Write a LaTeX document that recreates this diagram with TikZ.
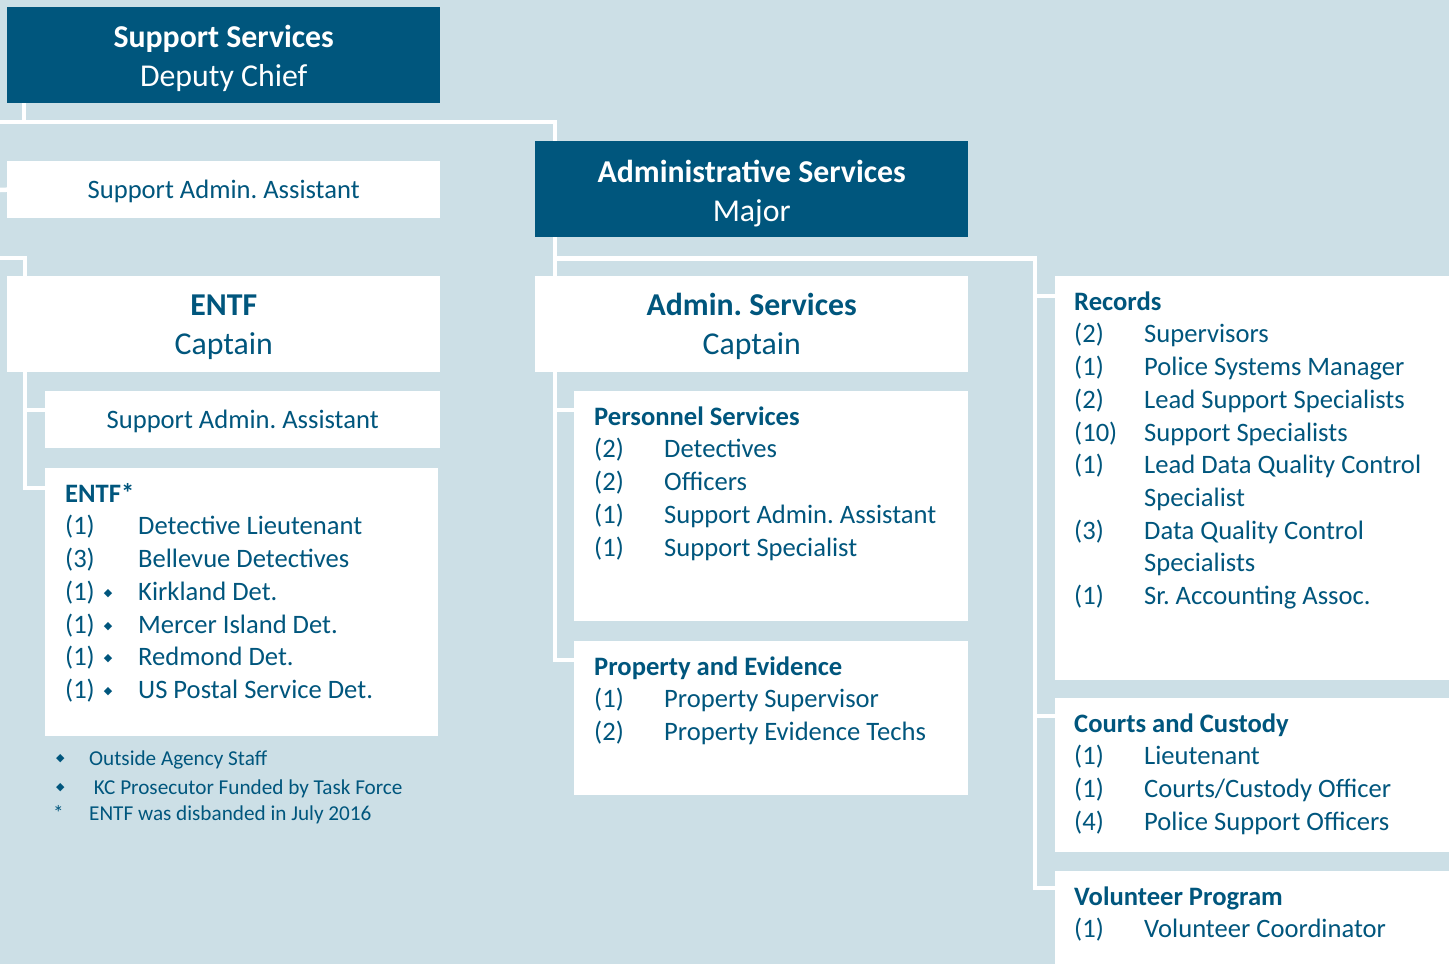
\documentclass[tikz,border=0pt]{standalone}
\usepackage{fontspec}
\setmainfont{Carlito}
\newfontfamily\symfont{DejaVu Sans}
\usetikzlibrary{positioning}
\frenchspacing

\definecolor{bgblue}{HTML}{CCDFE6}
\definecolor{chiefblue}{HTML}{00567D}

\newcommand{\bodyfont}{\fontsize{26.6}{32.7}\selectfont}
\newcommand{\headfont}{\fontsize{31.8}{39}\selectfont}
\newcommand{\notefont}{\fontsize{21.2}{26}\selectfont}
\newcommand{\entry}[3][70pt]{\makebox[#1][l]{#2}#3}
\newcommand{\outside}{\raisebox{4pt}{\symfont\fontsize{11}{11}\selectfont ◆}}
\newcommand{\topstrut}[1]{\rule{0pt}{#1}}

\begin{document}
\begin{tikzpicture}[x=1pt, y=-1pt,
    headbox/.style={fill=chiefblue, text=white, anchor=north west, inner sep=0pt,
                    align=center, font=\headfont, minimum width=433pt, minimum height=96pt},
    unitbox/.style={fill=white, text=chiefblue, anchor=north west, inner sep=0pt,
                    align=center, minimum width=433pt, minimum height=96pt},
    onebox/.style={unitbox, font=\bodyfont, minimum height=57pt, text height=17pt, text depth=0pt},
    listbox/.style={fill=white, anchor=north west, inner sep=0pt},
    listtext/.style={anchor=north west, align=left, text=chiefblue, font=\bodyfont, inner sep=0pt},
    link/.style={draw=white, line width=4.5pt}]

    \useasboundingbox (0,0) rectangle (1449,964);
    \fill [bgblue] (0,0) rectangle (1449,964);

    % off-page ends on the left
    \coordinate (offtop) at (0,122);
    \coordinate (offsa)  at (0,190);
    \coordinate (offentf) at (0,258);

    % boxes
    \node (dc)    [headbox] at (7,7)     {\topstrut{29pt}\textbf{Support Services}\\Deputy Chief};
    \node (sa1)   [onebox] at (7,161) {Support Admin. Assistant};
    \node (entf)  [unitbox, font=\headfont] at (7,276) {\topstrut{27pt}\textbf{ENTF}\\Captain};
    \node (sa2)   [onebox, minimum width=395pt] at (45,391) {Support Admin. Assistant};
    \node (entfl) [listbox, minimum width=393pt, minimum height=268pt] at (45,468) {};

    \node (maj)   [headbox] at (535,141) {\topstrut{31pt}\textbf{Administrative Services}\\Major};
    \node (capt)  [unitbox, font=\headfont] at (535,276) {\topstrut{27pt}\textbf{Admin. Services}\\Captain};
    \node (pers)  [listbox, minimum width=394pt, minimum height=230pt] at (574,391) {};
    \node (prop)  [listbox, minimum width=394pt, minimum height=154pt] at (574,641) {};

    \node (rec)   [listbox, minimum width=394pt, minimum height=404pt] at (1055,276) {};
    \node (court) [listbox, minimum width=394pt, minimum height=154pt] at (1055,698) {};
    \node (vol)   [listbox, minimum width=394pt, minimum height=93pt]  at (1055,871) {};

    % connectors
    \draw [link] (offtop) -| ([xshift=20pt]maj.north west);
    \draw [link] ([xshift=17pt]dc.south west) -- ([xshift=17pt]dc.south west |- offtop);
    \draw [link] (offsa) -- (sa1.west);
    \draw [link] (offentf) -| ([xshift=18pt]entf.north west);
    \draw [link] ([xshift=18pt]entf.south west) |- ([shift={(0,20)}]entfl.north west);
    \draw [link] ([xshift=18pt]entf.south west) |- ([shift={(0,19)}]sa2.north west);

    \draw [link] ([xshift=20pt]maj.south west) -- ([xshift=20pt]capt.north west);
    \draw [link] ([xshift=20pt]capt.south west) |- ([shift={(0,19)}]prop.north west);
    \draw [link] ([xshift=20pt]capt.south west) |- ([shift={(0,19)}]pers.north west);
    \draw [link] ([shift={(20,21)}]maj.south west) -| ([shift={(-20,17)}]vol.north west)
                 -- ([shift={(0,17)}]vol.north west);
    \draw [link] ([shift={(-20,20)}]rec.north west) -- ([shift={(0,20)}]rec.north west);
    \draw [link] ([shift={(-20,18)}]court.north west) -- ([shift={(0,18)}]court.north west);

    % box contents (first baseline 34 below the box top)
    \node (entfl-txt) [listtext] at ([shift={(20,14)}]entfl.north west)
        {\topstrut{20pt}\textbf{ENTF*}\\
         \entry[73pt]{(1)}{Detective Lieutenant}\\
         \entry[73pt]{(3)}{Bellevue Detectives}\\
         \entry[73pt]{(1)\hspace{9pt}\outside}{Kirkland Det.}\\
         \entry[73pt]{(1)\hspace{9pt}\outside}{Mercer Island Det.}\\
         \entry[73pt]{(1)\hspace{9pt}\outside}{Redmond Det.}\\
         \entry[73pt]{(1)\hspace{9pt}\outside}{US Postal Service Det.}};

    \node (pers-txt) [listtext] at ([shift={(20,14)}]pers.north west)
        {\topstrut{20pt}\textbf{Personnel Services}\\
         \entry{(2)}{Detectives}\\
         \entry{(2)}{Officers}\\
         \entry{(1)}{Support Admin. Assistant}\\
         \entry{(1)}{Support Specialist}};

    \node (prop-txt) [listtext] at ([shift={(20,14)}]prop.north west)
        {\topstrut{20pt}\textbf{Property and Evidence}\\
         \entry{(1)}{Property Supervisor}\\
         \entry{(2)}{Property Evidence Techs}};

    \node (rec-txt) [listtext] at ([shift={(19,14)}]rec.north west)
        {\topstrut{20pt}\textbf{Records}\\
         \entry{(2)}{Supervisors}\\
         \entry{(1)}{Police Systems Manager}\\
         \entry{(2)}{Lead Support Specialists}\\
         \entry{(10)}{Support Specialists}\\
         \entry{(1)}{Lead Data Quality Control}\\
         \entry{}{Specialist}\\
         \entry{(3)}{Data Quality Control}\\
         \entry{}{Specialists}\\
         \entry{(1)}{Sr. Accounting Assoc.}};

    \node (court-txt) [listtext] at ([shift={(19,14)}]court.north west)
        {\topstrut{20pt}\textbf{Courts and Custody}\\
         \entry{(1)}{Lieutenant}\\
         \entry{(1)}{Courts/Custody Officer}\\
         \entry{(4)}{Police Support Officers}};

    \node (vol-txt) [listtext] at ([shift={(19,14)}]vol.north west)
        {\topstrut{20pt}\textbf{Volunteer Program}\\
         \entry{(1)}{Volunteer Coordinator}};

    % notes
    \node (notes) [listtext, font=\notefont] at (50,749)
        {\topstrut{16pt}\makebox[39pt][l]{\hspace{6pt}\outside}Outside Agency Staff\\[3pt]
         \makebox[39pt][l]{\hspace{6pt}\outside}\ KC Prosecutor Funded by Task Force\\[0pt]
         \makebox[39pt][l]{\hspace{3pt}*}ENTF was disbanded in July 2016};

\end{tikzpicture}
\end{document}
